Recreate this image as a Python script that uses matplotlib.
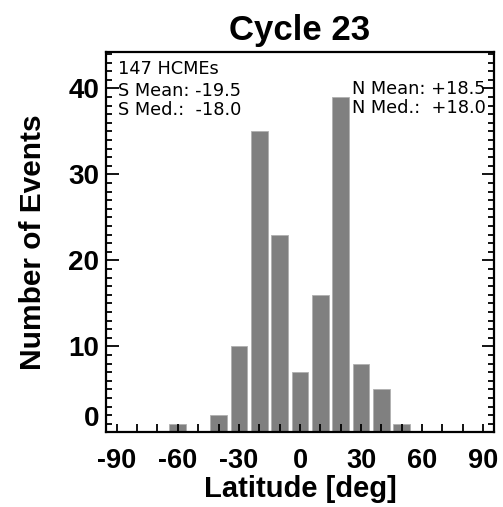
import numpy as np
import matplotlib
matplotlib.use("Agg")
import matplotlib.pyplot as plt
from matplotlib.ticker import MultipleLocator
from matplotlib.transforms import ScaledTranslation

plt.rcParams['font.family'] = ['Liberation Sans', 'DejaVu Sans']
plt.rcParams['axes.unicode_minus'] = False

# Histogram of HCME source latitudes, solar cycle 23 (10 deg bins)
bin_centers = [-60, -40, -30, -20, -10, 0, 10, 20, 30, 40, 50]
counts = [1, 2, 10, 35, 23, 7, 16, 39, 8, 5, 1]

n_events = 147
s_mean, s_median = -19.5, -18.0
n_mean, n_median = 18.5, 18.0

fig = plt.figure(figsize=(5.03, 5.07), dpi=100)
ax = fig.add_axes([0.2107, 0.147, 0.7714, 0.7498])

ax.bar(bin_centers, counts, width=8.2, color="#808080", edgecolor="#b0b0b0", linewidth=0.6)

ax.set_xlim(-95.3, 95.3)
ax.set_ylim(0, 44.2)
ax.set_xticks([-90, -60, -30, 0, 30, 60, 90])
ax.xaxis.set_minor_locator(MultipleLocator(10))
ax.set_yticks([0, 10, 20, 30, 40])
ax.yaxis.set_minor_locator(MultipleLocator(1))

ax.tick_params(axis="both", which="both", direction="in", width=1.3, colors="black")
ax.tick_params(axis="x", which="major", length=6, labelsize=19.5, pad=11)
ax.tick_params(axis="x", which="minor", length=6)
ax.tick_params(axis="y", which="major", length=9, labelsize=20, pad=5, right=True)
ax.tick_params(axis="y", which="minor", length=4, right=True)
for lbl in ax.get_xticklabels() + ax.get_yticklabels():
    lbl.set_fontweight("bold")
# IDL-style: the zero label sits a bit above the axis
zero_lbl = ax.get_yticklabels()[0]
zero_lbl.set_transform(zero_lbl.get_transform() + ScaledTranslation(0, 0.16, fig.dpi_scale_trans))
for sp in ax.spines.values():
    sp.set_linewidth(1.6)

ax.set_title("Cycle 23", fontsize=25, fontweight="bold", pad=9)
ax.set_xlabel("Latitude [deg]", fontsize=21, fontweight="bold", va="baseline")
ax.xaxis.set_label_coords(0.5, -0.170)
ax.set_ylabel("Number of Events", fontsize=21.5, fontweight="bold")
ax.yaxis.set_label_coords(-0.152, 0.5)

txt = dict(fontsize=12.8, family="DejaVu Sans", transform=ax.transAxes, va="top")
ax.text(0.030, 0.981, f"{n_events} HCMEs", ha="left", **txt)
ax.text(0.030, 0.921, f"S Mean: {s_mean:.1f}", ha="left", **txt)
ax.text(0.030, 0.871, f"S Med.:  {s_median:.1f}", ha="left", **txt)
ax.text(0.634, 0.926, f"N Mean: {n_mean:+.1f}", ha="left", **txt)
ax.text(0.634, 0.877, f"N Med.:  {n_median:+.1f}", ha="left", **txt)

fig.savefig("out.png", dpi=100)
